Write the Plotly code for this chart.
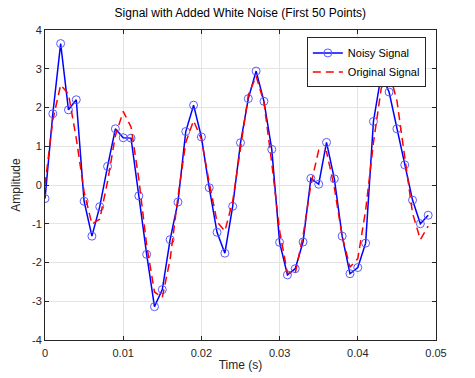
import plotly.graph_objects as go

time_s = [i / 1000 for i in range(50)]
noisy_signal = [-0.35, 1.84, 3.65, 1.94, 2.2, -0.42, -1.32, -0.56, 0.48, 1.45,
                1.22, 1.21, -0.28, -1.79, -3.14, -2.7, -1.41, -0.44, 1.38, 2.06,
                1.24, -0.07, -1.22, -1.76, -0.55, 1.09, 2.23, 2.94, 2.16, 0.92,
                -1.48, -2.32, -2.16, -1.47, 0.17, 0.02, 1.1, 0.16, -1.32, -2.29,
                -2.13, -1.5, 1.64, 2.85, 2.4, 1.45, 0.52, -0.39, -1.0, -0.78]
original_signal = [0.0, 1.68, 2.58, 2.35, 1.2, -0.18, -1.01, -0.88, 0.09, 1.27,
                   1.9, 1.5, 0.15, -1.55, -2.76, -2.9, -1.92, -0.31, 1.1, 1.66,
                   1.18, 0.06, -0.95, -1.19, -0.42, 1.0, 2.32, 2.81, 2.13, 0.56,
                   -1.18, -2.27, -2.28, -1.31, 0.01, 0.9, 0.86, -0.07, -1.32, -2.12,
                   -1.9, -0.66, 1.09, 2.5, 2.92, 2.18, 0.7, -0.73, -1.41, -1.06]
x_ticks = [0, 0.01, 0.02, 0.03, 0.04, 0.05]
x_tick_labels = ["0", "0.01", "0.02", "0.03", "0.04", "0.05"]
y_ticks = [-4, -3, -2, -1, 0, 1, 2, 3, 4]
y_tick_labels = ["-4", "-3", "-2", "-1", "0", "1", "2", "3", "4"]

FONT = "Liberation Sans, Arial, sans-serif"
AX = "#262626"

fig = go.Figure()
fig.add_trace(go.Scatter(
    x=time_s, y=noisy_signal, mode="lines+markers", name="Noisy Signal",
    line=dict(color="#0000ff", width=1.5),
    marker=dict(symbol="circle-open", size=8, color="#5a5aff", line=dict(width=1)),
))
fig.add_trace(go.Scatter(
    x=time_s, y=original_signal, mode="lines", name="Original Signal",
    line=dict(color="#ff0000", width=1.5, dash="8px,5px"),
))

axis_common = dict(
    showline=True, linecolor=AX, linewidth=1, mirror="ticks",
    ticks="inside", ticklen=4, tickcolor=AX, tickwidth=1,
    showgrid=True, gridcolor="#e3e3e3", gridwidth=1, zeroline=False,
    tickfont=dict(family=FONT, size=11, color=AX), automargin=False,
)

fig.update_layout(
    width=475, height=378,
    margin=dict(l=45, r=39, t=30, b=38),
    paper_bgcolor="white", plot_bgcolor="white",
    font=dict(family=FONT, color=AX),
    title=dict(text="Signal with Added White Noise (First 50 Points)",
               x=0.506, xanchor="center", y=1 - 13 / 378, yanchor="middle",
               font=dict(family=FONT, size=12, color="#000000")),
    xaxis=dict(range=[0, 0.05], tickvals=x_ticks, ticktext=x_tick_labels,
               ticklabelstandoff=3,
               title=dict(text="Time (s)", standoff=2,
                          font=dict(family=FONT, size=12, color=AX)),
               **axis_common),
    yaxis=dict(range=[-4, 4], tickvals=y_ticks, ticktext=y_tick_labels,
               title=dict(text="Amplitude", standoff=8,
                          font=dict(family=FONT, size=12, color=AX)),
               **axis_common),
    legend=dict(x=0.974, xanchor="right", y=0.976, yanchor="top",
                bgcolor="white", bordercolor="#262626", borderwidth=1,
                font=dict(family=FONT, size=11, color="#000000"),
                tracegroupgap=0, itemwidth=30),
    showlegend=True,
)

fig.write_html("out.html", config={"displayModeBar": False},
               post_script="document.body.style.margin='0px';document.body.style.padding='0px';")
